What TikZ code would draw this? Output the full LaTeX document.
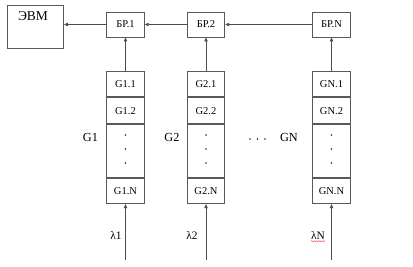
\documentclass[tikz,border=0pt]{standalone}
\usepackage{fontspec}
\setmainfont{Liberation Serif}
\usetikzlibrary{arrows.meta,decorations.pathmorphing}
\begin{document}
\begin{tikzpicture}[x=1pt,y=-1pt,
  box/.style={draw=black!65, line width=0.9pt, fill=white, minimum width=37.5pt, inner sep=0pt, font=\fontsize{10.5}{11}\selectfont},
  brbox/.style={box, minimum height=25pt},
  cell/.style={box, minimum height=25.5pt},
  dotcell/.style={box, minimum height=53pt},
  conn/.style={draw=black!70, line width=0.8pt, -{Triangle[length=4pt,width=3.4pt]}},
  lbl/.style={font=\fontsize{12.3}{13}\selectfont, inner sep=0pt},
  lam/.style={font=\fontsize{11.4}{12}\selectfont, inner sep=0pt}]
\useasboundingbox (0,0) rectangle (413,267);
% EVM
\node[draw=black!65, line width=0.9pt, minimum width=56pt, minimum height=43pt, inner sep=0pt, anchor=north west] (evm) at (7,5) {};
\node[font=\fontsize{13.5}{14}\selectfont, inner sep=0pt] (evmtext) at (33,16) {ЭВМ};
% BR boxes
\node[brbox] (br1) at (125.5,24.5) {БР.1};
\node[brbox] (br2) at (206,24.5) {БР.2};
\node[brbox] (brN) at (331.5,24.5) {БР.N};
% columns
\foreach \c/\x/\n in {1/125.5/G1, 2/206/G2, N/331.5/GN}{
  \node[cell, anchor=north] (g\c a) at (\x,71) {\n.1};
  \node[cell, anchor=north] (g\c b) at (g\c a.south) {\n.2};
  \node[dotcell, anchor=north] (g\c d) at (g\c b.south) {};
  \node[cell, anchor=north] (g\c n) at (g\c d.south) {\n.N};
  \foreach \yy in {135,149,163}{ \fill[black!85] (\x,\yy) circle (0.9pt); }
  \coordinate (in\c) at (\x,260);
  \draw[conn] (in\c) -- (g\c n.south);
  \draw[conn] (g\c a.north) -- (br\c.south);
}
% horizontal links
\draw[conn] (brN.west) -- (br2.east);
\draw[conn] (br2.west) -- (br1.east);
\draw[conn] (br1.west) -- (evm.east |- br1.west);
% group labels
\node[lbl] (lg1) at (90.5,137) {G1};
\node[lbl] (lg2) at (172,137) {G2};
\node[lbl] (lgN) at (289,137) {GN};
\foreach \xx in {250,257.5,265}{ \fill[black!85] (\xx,139) circle (0.9pt); }
% lambda labels
\node[lam] (l1) at (116,235) {λ1};
\node[lam] (l2) at (192,235) {λ2};
\node[lam] (lN) at (318,235) {λN};
\draw[red!80, line width=0.4pt, decorate, decoration={snake, amplitude=0.6pt, segment length=2.5pt}] ([yshift=-2pt]lN.south west) -- ([yshift=-2pt]lN.south east);
\end{tikzpicture}
\end{document}
